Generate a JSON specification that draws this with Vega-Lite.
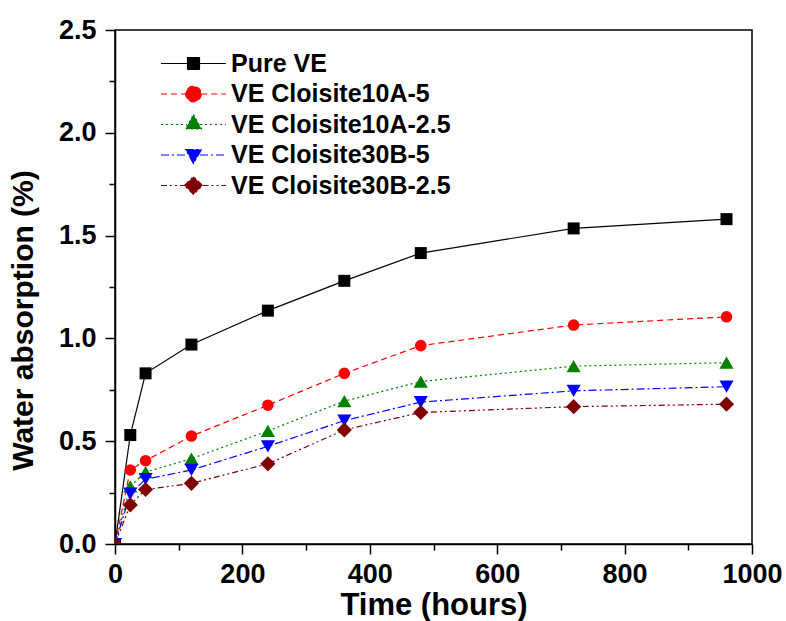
{
  "$schema": "https://vega.github.io/schema/vega-lite/v6.json",
  "width": 637,
  "height": 514,
  "autosize": {"type": "none"},
  "padding": {"left": 115, "top": 30, "right": 34, "bottom": 77},
  "background": "white",
  "config": {"view": {"stroke": "black", "strokeWidth": 1.5}, "font": "Liberation Sans",
    "legend": {"orient": "none", "legendX": 66, "legendY": 21, "title": null, "symbolSize": 400,
      "padding": 0, "rowPadding": 4.5, "labelOffset": 25, "labelLimit": 400,
      "labelFont": "Liberation Sans", "labelFontSize": 25, "labelFontWeight": "bold", "labelColor": "black",
      "symbolStrokeWidth": 1.2, "symbolOpacity": 1}},
  "data": {"values": [
    {"t": 0, "v": 0, "s": "Pure VE"},
    {"t": 24, "v": 0.53, "s": "Pure VE"},
    {"t": 48, "v": 0.83, "s": "Pure VE"},
    {"t": 120, "v": 0.97, "s": "Pure VE"},
    {"t": 240, "v": 1.135, "s": "Pure VE"},
    {"t": 360, "v": 1.28, "s": "Pure VE"},
    {"t": 480, "v": 1.415, "s": "Pure VE"},
    {"t": 720, "v": 1.535, "s": "Pure VE"},
    {"t": 960, "v": 1.58, "s": "Pure VE"},
    {"t": 0, "v": 0, "s": "VE Cloisite10A-5"},
    {"t": 24, "v": 0.36, "s": "VE Cloisite10A-5"},
    {"t": 48, "v": 0.405, "s": "VE Cloisite10A-5"},
    {"t": 120, "v": 0.525, "s": "VE Cloisite10A-5"},
    {"t": 240, "v": 0.675, "s": "VE Cloisite10A-5"},
    {"t": 360, "v": 0.83, "s": "VE Cloisite10A-5"},
    {"t": 480, "v": 0.965, "s": "VE Cloisite10A-5"},
    {"t": 720, "v": 1.065, "s": "VE Cloisite10A-5"},
    {"t": 960, "v": 1.105, "s": "VE Cloisite10A-5"},
    {"t": 0, "v": 0, "s": "VE Cloisite10A-2.5"},
    {"t": 24, "v": 0.28, "s": "VE Cloisite10A-2.5"},
    {"t": 48, "v": 0.35, "s": "VE Cloisite10A-2.5"},
    {"t": 120, "v": 0.415, "s": "VE Cloisite10A-2.5"},
    {"t": 240, "v": 0.55, "s": "VE Cloisite10A-2.5"},
    {"t": 360, "v": 0.695, "s": "VE Cloisite10A-2.5"},
    {"t": 480, "v": 0.79, "s": "VE Cloisite10A-2.5"},
    {"t": 720, "v": 0.865, "s": "VE Cloisite10A-2.5"},
    {"t": 960, "v": 0.882, "s": "VE Cloisite10A-2.5"},
    {"t": 0, "v": 0, "s": "VE Cloisite30B-5"},
    {"t": 24, "v": 0.245, "s": "VE Cloisite30B-5"},
    {"t": 48, "v": 0.315, "s": "VE Cloisite30B-5"},
    {"t": 120, "v": 0.36, "s": "VE Cloisite30B-5"},
    {"t": 240, "v": 0.475, "s": "VE Cloisite30B-5"},
    {"t": 360, "v": 0.6, "s": "VE Cloisite30B-5"},
    {"t": 480, "v": 0.69, "s": "VE Cloisite30B-5"},
    {"t": 720, "v": 0.745, "s": "VE Cloisite30B-5"},
    {"t": 960, "v": 0.765, "s": "VE Cloisite30B-5"},
    {"t": 0, "v": 0, "s": "VE Cloisite30B-2.5"},
    {"t": 24, "v": 0.19, "s": "VE Cloisite30B-2.5"},
    {"t": 48, "v": 0.265, "s": "VE Cloisite30B-2.5"},
    {"t": 120, "v": 0.295, "s": "VE Cloisite30B-2.5"},
    {"t": 240, "v": 0.39, "s": "VE Cloisite30B-2.5"},
    {"t": 360, "v": 0.555, "s": "VE Cloisite30B-2.5"},
    {"t": 480, "v": 0.64, "s": "VE Cloisite30B-2.5"},
    {"t": 720, "v": 0.668, "s": "VE Cloisite30B-2.5"},
    {"t": 960, "v": 0.68, "s": "VE Cloisite30B-2.5"}
  ]},
  "layer": [
    {
      "transform": [{"filter": "datum.s === 'Pure VE'"}],
      "mark": {"type": "line", "color": "#000000", "strokeWidth": 1.2, "clip": true,
        "point": {"filled": true, "shape": "square", "size": 144, "color": "#000000", "clip": true}},
      "encoding": {
        "x": {"field": "t", "type": "quantitative", "scale": {"domain": [0, 1000], "nice": false},
          "axis": {"orient": "bottom", "values": [0, 200, 400, 600, 800, 1000], "format": "d", "grid": false,
            "tickSize": 10, "tickWidth": 1.5, "tickColor": "black", "domainColor": "black", "domainWidth": 1.5,
            "labelFont": "Liberation Sans", "labelFontSize": 27, "labelFontWeight": "bold", "labelColor": "black",
            "labelPadding": 7, "labelFlush": false, "labelOverlap": false,
            "title": "Time (hours)", "titleFont": "Liberation Sans", "titleFontSize": 31, "titleFontWeight": "bold",
            "titleColor": "black", "titleBaseline": "alphabetic", "titleY": 70}},
        "y": {"field": "v", "type": "quantitative", "scale": {"domain": [0, 2.5], "nice": false},
          "axis": {"orient": "left", "values": [0, 0.5, 1, 1.5, 2, 2.5], "format": ".1f", "grid": false,
            "tickSize": 10, "tickWidth": 1.5, "tickColor": "black", "domainColor": "black", "domainWidth": 1.5,
            "labelFont": "Liberation Sans", "labelFontSize": 27, "labelFontWeight": "bold", "labelColor": "black",
            "labelPadding": 9, "labelFlush": false, "labelOverlap": false,
            "title": "Water absorption (%)", "titleFont": "Liberation Sans", "titleFontSize": 30, "titleFontWeight": "bold",
            "titleColor": "black", "titleBaseline": "middle", "titleX": -92, "titleY": 290}}
      }
    },
    {
      "transform": [{"filter": "datum.s === 'VE Cloisite10A-5'"}],
      "mark": {"type": "line", "color": "#ff0000", "strokeDash": [6, 4], "strokeWidth": 1.2, "clip": true,
        "point": {"filled": true, "shape": "circle", "size": 135, "color": "#ff0000", "clip": true}},
      "encoding": {
        "x": {"field": "t", "type": "quantitative", "axis": null},
        "y": {"field": "v", "type": "quantitative", "axis": null}
      }
    },
    {
      "transform": [{"filter": "datum.s === 'VE Cloisite10A-2.5'"}],
      "mark": {"type": "line", "color": "#008000", "strokeDash": [2, 3], "strokeWidth": 1.2, "clip": true,
        "point": {"filled": true, "shape": "triangle-up", "size": 200, "color": "#008000", "clip": true}},
      "encoding": {
        "x": {"field": "t", "type": "quantitative", "axis": null},
        "y": {"field": "v", "type": "quantitative", "axis": null}
      }
    },
    {
      "transform": [{"filter": "datum.s === 'VE Cloisite30B-5'"}],
      "mark": {"type": "line", "color": "#0000ff", "strokeDash": [8, 3, 2, 3], "strokeWidth": 1.2, "clip": true,
        "point": {"filled": true, "shape": "triangle-down", "size": 200, "color": "#0000ff", "clip": true}},
      "encoding": {
        "x": {"field": "t", "type": "quantitative", "axis": null},
        "y": {"field": "v", "type": "quantitative", "axis": null}
      }
    },
    {
      "transform": [{"filter": "datum.s === 'VE Cloisite30B-2.5'"}],
      "mark": {"type": "line", "color": "#800000", "strokeDash": [6, 3, 2, 3, 2, 3], "strokeWidth": 1.2, "clip": true,
        "point": {"filled": true, "shape": "diamond", "size": 230, "color": "#800000", "clip": true}},
      "encoding": {
        "x": {"field": "t", "type": "quantitative", "axis": null},
        "y": {"field": "v", "type": "quantitative", "axis": null}
      }
    },
    {
      "mark": {"type": "point", "filled": true, "opacity": 0},
      "encoding": {
        "x": {"field": "t", "type": "quantitative",
          "axis": {"orient": "bottom", "values": [100, 300, 500, 700, 900], "grid": false, "labels": false, "domain": false,
            "tickSize": 6, "tickWidth": 1.5, "tickColor": "black", "title": null}},
        "y": {"field": "v", "type": "quantitative",
          "axis": {"orient": "left", "values": [0.25, 0.75, 1.25, 1.75, 2.25], "grid": false, "labels": false, "domain": false,
            "tickSize": 6, "tickWidth": 1.5, "tickColor": "black", "title": null}},
        "fill": {"field": "s", "type": "nominal",
          "scale": {"domain": ["Pure VE", "VE Cloisite10A-5", "VE Cloisite10A-2.5", "VE Cloisite30B-5", "VE Cloisite30B-2.5"],
            "range": ["#000000", "#ff0000", "#008000", "#0000ff", "#800000"]}},
        "stroke": {"field": "s", "type": "nominal",
          "scale": {"domain": ["Pure VE", "VE Cloisite10A-5", "VE Cloisite10A-2.5", "VE Cloisite30B-5", "VE Cloisite30B-2.5"],
            "range": ["#000000", "#ff0000", "#008000", "#0000ff", "#800000"]}},
        "strokeDash": {"field": "s", "type": "nominal",
          "scale": {"domain": ["Pure VE", "VE Cloisite10A-5", "VE Cloisite10A-2.5", "VE Cloisite30B-5", "VE Cloisite30B-2.5"],
            "range": [[1, 0], [6, 4], [2, 3], [8, 3, 2, 3], [6, 3, 2, 3, 2, 3]]}},
        "shape": {"field": "s", "type": "nominal",
          "scale": {"domain": ["Pure VE", "VE Cloisite10A-5", "VE Cloisite10A-2.5", "VE Cloisite30B-5", "VE Cloisite30B-2.5"],
            "range": [
              "M-3.25,0H-0.6M0.6,0H3.25M-0.6,-0.6H0.6V0.6H-0.6Z",
              "M-3.25,0H-0.78M0.78,0H3.25M0.78,0A0.78,0.78,0,1,1,-0.78,0A0.78,0.78,0,1,1,0.78,0Z",
              "M-3.25,0H-0.65M0.65,0H3.25M0,-1.0L0.8,0.45L-0.8,0.45Z",
              "M-3.25,0H-0.65M0.65,0H3.25M-0.8,-0.55L0.8,-0.55L0,0.85Z",
              "M-3.25,0H-0.9M0.9,0H3.25M-0.9,0L0,-0.9L0.9,0L0,0.9Z"
            ]}}
      }
    }
  ],
  "resolve": {"axis": {"x": "independent", "y": "independent"}}
}
